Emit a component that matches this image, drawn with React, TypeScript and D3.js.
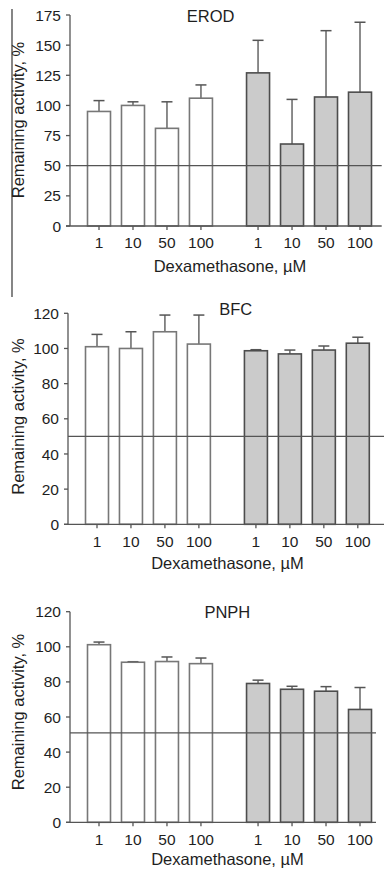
import React from "react";
import * as d3 from "d3";

const doseLabels = ["1", "10", "50", "100", "1", "10", "50", "100"];
const groupOf = [0, 0, 0, 0, 1, 1, 1, 1];

const erodMeans = [95, 100, 81, 106, 127, 68, 107, 111];
const erodUpper = [104, 103, 103, 117, 154, 105, 162, 169];
const erodTicks = [0, 25, 50, 75, 100, 125, 150, 175];

const bfcMeans = [101, 100, 109.5, 102.5, 98.7, 96.9, 99.1, 103];
const bfcUpper = [108, 109.5, 119, 119, 99.3, 99.1, 101.4, 106.4];
const bfcTicks = [0, 20, 40, 60, 80, 100, 120];

const pnphMeans = [101.2, 91.2, 91.6, 90.4, 79.1, 75.8, 74.7, 64.3];
const pnphUpper = [102.7, 91.5, 94.2, 93.6, 81, 77.5, 77.3, 76.8];
const pnphTicks = [0, 20, 40, 60, 80, 100, 120];

const refLevels = [50, 50, 51];
const panelTitles = ["EROD", "BFC", "PNPH"];
const xTitle = "Dexamethasone, µM";
const yTitle = "Remaining activity, %";

const FONT = "'Liberation Sans', Arial, Helvetica, sans-serif";
const TXT = "#1e1e1e";
const LINE = "#555";

type PanelProps = {
  title: string;
  means: number[];
  upper: number[];
  ticks: number[];
  ref: number;
  y0: number;
  yTopPx: number;
  axisX: number;
  xFirst: number;
  xLast: number;
  xAxisEnd: number;
  titleX: number;
  titleY: number;
  tickY: number;
  xTitleX: number;
  xTitleY: number;
  yTitleY: number;
};

function Panel(p: PanelProps) {
  const yMax = p.ticks[p.ticks.length - 1];
  const y = d3.scaleLinear().domain([0, yMax]).range([p.y0, p.yTopPx]);
  const gap = 0.68;
  const slot = (i: number) => i + (groupOf[i] === 1 ? gap : 0);
  const x = d3.scaleLinear().domain([0, 7 + gap]).range([p.xFirst, p.xLast]);
  const bw = 23;
  const cap = 11;
  return (
    <g>
      <text x={p.titleX} y={p.titleY} textAnchor="middle" fontSize={16.5} fill={TXT}>
        {p.title}
      </text>
      {p.means.map((m, i) => {
        const cx = x(slot(i));
        const gray = groupOf[i] === 1;
        return (
          <g key={"b" + i}>
            <line x1={cx} x2={cx} y1={y(m)} y2={y(p.upper[i])} stroke="#666" strokeWidth={1.5} />
            <line x1={cx - cap / 2} x2={cx + cap / 2} y1={y(p.upper[i])} y2={y(p.upper[i])} stroke="#555" strokeWidth={1.5} />
            <rect
              x={cx - bw / 2}
              y={y(m)}
              width={bw}
              height={y(0) - y(m)}
              fill={gray ? "#cbcbcb" : "#ffffff"}
              stroke={gray ? "#4d4d4d" : "#777"}
              strokeWidth={1.6}
            />
          </g>
        );
      })}
      <line x1={p.axisX} x2={p.xAxisEnd} y1={y(p.ref)} y2={y(p.ref)} stroke={LINE} strokeWidth={1.3} />
      <line x1={p.axisX} x2={p.axisX} y1={y(0)} y2={y(yMax)} stroke={LINE} strokeWidth={1.3} />
      {p.ticks.map((t) => (
        <g key={"t" + t}>
          <line x1={p.axisX - 4} x2={p.axisX} y1={y(t)} y2={y(t)} stroke={LINE} strokeWidth={1.3} />
          <text x={p.axisX - 9} y={y(t)} dy="0.36em" textAnchor="end" fontSize={15.5} fill={TXT}>
            {t}
          </text>
        </g>
      ))}
      <line x1={p.axisX - 4} x2={p.xAxisEnd} y1={y(0)} y2={y(0)} stroke={LINE} strokeWidth={1.3} />
      {doseLabels.map((d, i) => {
        const cx = x(slot(i));
        return (
          <g key={"x" + i}>
            <line x1={cx} x2={cx} y1={y(0)} y2={y(0) + 4} stroke={LINE} strokeWidth={1.3} />
            <text x={cx} y={p.tickY} textAnchor="middle" fontSize={15.5} fill={TXT}>
              {d}
            </text>
          </g>
        );
      })}
      <text x={p.xTitleX} y={p.xTitleY} textAnchor="middle" fontSize={16.5} fill={TXT}>
        {xTitle}
      </text>
      <text
        transform={`translate(24,${p.yTitleY}) rotate(-90)`}
        textAnchor="middle"
        fontSize={16.5}
        fill={TXT}
      >
        {yTitle}
      </text>
    </g>
  );
}

export default function App() {
  return (
    <svg
      width={384}
      height={869}
      style={{ position: "absolute", left: 0, top: 0, fontFamily: FONT, background: "#fff" }}
    >
      <rect x={0} y={0} width={384} height={869} fill="#fff" />
      <line x1={12} x2={12} y1={9} y2={297} stroke="#444" strokeWidth={1.3} />
      <Panel
        title={panelTitles[0]}
        means={erodMeans}
        upper={erodUpper}
        ticks={erodTicks}
        ref={refLevels[0]}
        y0={226}
        yTopPx={15}
        axisX={70}
        xFirst={99}
        xLast={360}
        xAxisEnd={381.7}
        titleX={210.7}
        titleY={22}
        tickY={248.3}
        xTitleX={230}
        xTitleY={271.7}
        yTitleY={120}
      />
      <Panel
        title={panelTitles[1]}
        means={bfcMeans}
        upper={bfcUpper}
        ticks={bfcTicks}
        ref={refLevels[1]}
        y0={524.3}
        yTopPx={313.3}
        axisX={68}
        xFirst={97}
        xLast={357.8}
        xAxisEnd={384}
        titleX={235.7}
        titleY={315}
        tickY={546.7}
        xTitleX={227.5}
        xTitleY={569.3}
        yTitleY={416.5}
      />
      <Panel
        title={panelTitles[2]}
        means={pnphMeans}
        upper={pnphUpper}
        ticks={pnphTicks}
        ref={refLevels[2]}
        y0={822.3}
        yTopPx={611.7}
        axisX={70}
        xFirst={99}
        xLast={360}
        xAxisEnd={376}
        titleX={227.3}
        titleY={618.3}
        tickY={845}
        xTitleX={227.5}
        xTitleY={865}
        yTitleY={712}
      />
    </svg>
  );
}
